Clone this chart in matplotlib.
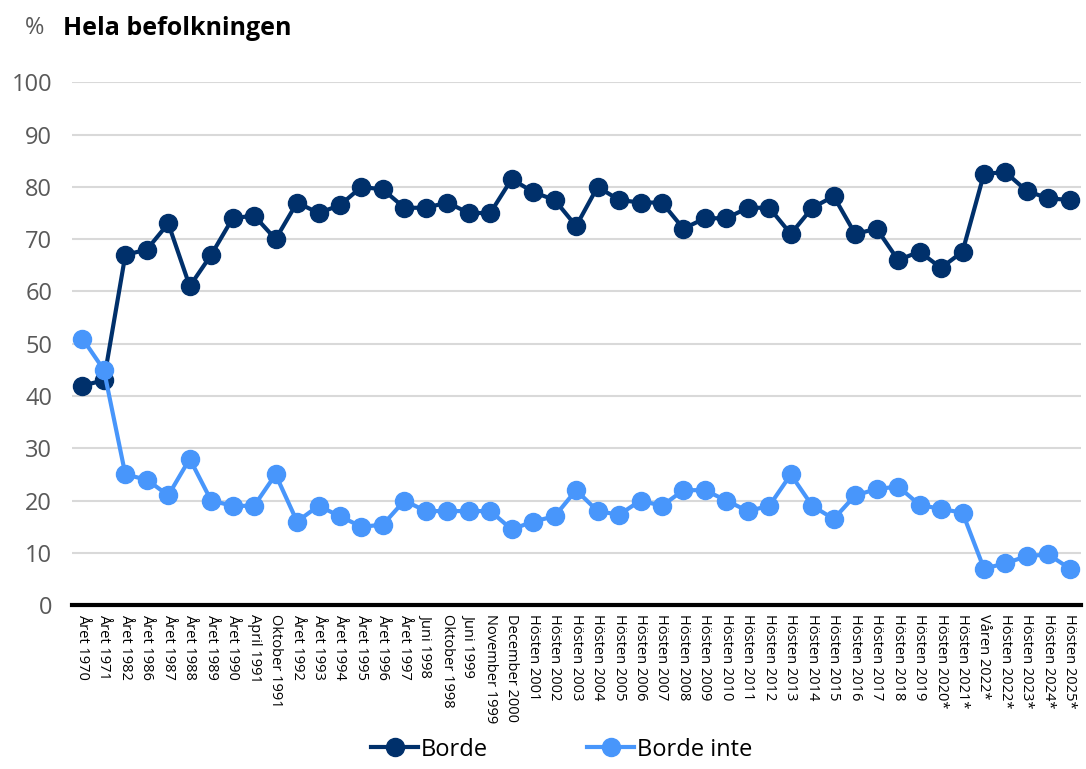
import matplotlib

matplotlib.use("Agg")
import matplotlib.pyplot as plt

plt.rcParams["font.family"] = ["Open Sans", "DejaVu Sans"]

DARK = "#00306b"
LIGHT = "#4896fb"
GRID = "#d9d9d9"
TICK_GREY = "#595959"

CATEGORIES = [
    "Året 1970", "Året 1971", "Året 1982", "Året 1986", "Året 1987", "Året 1988",
    "Året 1989", "Året 1990", "April 1991", "Oktober 1991", "Året 1992", "Året 1993",
    "Året 1994", "Året 1995", "Året 1996", "Året 1997", "Juni 1998", "Oktober 1998",
    "Juni 1999", "November 1999", "December 2000", "Hösten 2001", "Hösten 2002",
    "Hösten 2003", "Hösten 2004", "Hösten 2005", "Hösten 2006", "Hösten 2007",
    "Hösten 2008", "Hösten 2009", "Hösten 2010", "Hösten 2011", "Hösten 2012",
    "Hösten 2013", "Hösten 2014", "Hösten 2015", "Hösten 2016", "Hösten 2017",
    "Hösten 2018", "Hösten 2019", "Hösten 2020*", "Hösten 2021*", "Våren 2022*",
    "Hösten 2022*", "Hösten 2023*", "Hösten 2024*", "Hösten 2025*",
]

BORDE = [
    42, 43, 67, 68, 73, 61, 67, 74, 74.5, 70, 77, 75, 76.5, 80, 79.5, 76,
    76, 77, 75, 75, 81.5, 79, 77.5, 72.5, 80, 77.5, 77, 77, 72, 74, 74, 76,
    76, 71, 76, 78.2, 71, 72, 66, 67.6, 64.5, 67.6, 82.5, 82.8, 79.2, 77.8, 77.5,
]

BORDE_INTE = [
    51, 45, 25, 24, 21, 28, 20, 19, 19, 25, 16, 19, 17, 15, 15.4, 20,
    18, 18, 18, 18, 14.5, 16, 17, 22, 18, 17.3, 20, 19, 22, 22, 20, 18,
    19, 25, 19, 16.5, 21, 22.2, 22.7, 19.2, 18.4, 17.7, 7, 8, 9.4, 9.7, 7,
]

YTICKS = list(range(0, 101, 10))

fig = plt.figure(figsize=(10.86, 7.69), dpi=100)
ax = fig.add_axes([0.066, 0.213, 0.929, 0.68])

x = list(range(len(CATEGORIES)))
ax.plot(x, BORDE, color=DARK, linewidth=3, marker="o", markersize=13,
        label="Borde", zorder=3, clip_on=False)
ax.plot(x, BORDE_INTE, color=LIGHT, linewidth=3, marker="o", markersize=13,
        label="Borde inte", zorder=3, clip_on=False)

ax.set_xlim(-0.5, len(CATEGORIES) - 0.5)
ax.set_ylim(0, 100)
ax.set_yticks(YTICKS)
ax.set_yticklabels([str(v) for v in YTICKS], fontsize=17, color=TICK_GREY)
ax.set_xticks(x)
ax.set_xticklabels(CATEGORIES, rotation=-90, fontsize=10.5, ha="center", va="top")
ax.tick_params(axis="both", length=0)
ax.tick_params(axis="y", pad=14)
ax.tick_params(axis="x", pad=6)

ax.yaxis.grid(True, color=GRID, linewidth=1.5)
ax.set_axisbelow(True)
for side in ("top", "right", "left"):
    ax.spines[side].set_visible(False)
ax.spines["bottom"].set_color("black")
ax.spines["bottom"].set_linewidth(3)
ax.spines["bottom"].set_zorder(4)

fig.text(0.023, 0.963, "%", fontsize=17, color=TICK_GREY, va="center", ha="left")
fig.text(0.058, 0.963, "Hela befolkningen", fontsize=18, fontweight="bold",
         color="black", va="center", ha="left")

fig.legend(loc="lower center", bbox_to_anchor=(0.517, -0.018), ncol=2, frameon=False,
           fontsize=17, handlelength=2.0, columnspacing=4.2, handletextpad=0.1)

fig.savefig("out.png", dpi=100)
